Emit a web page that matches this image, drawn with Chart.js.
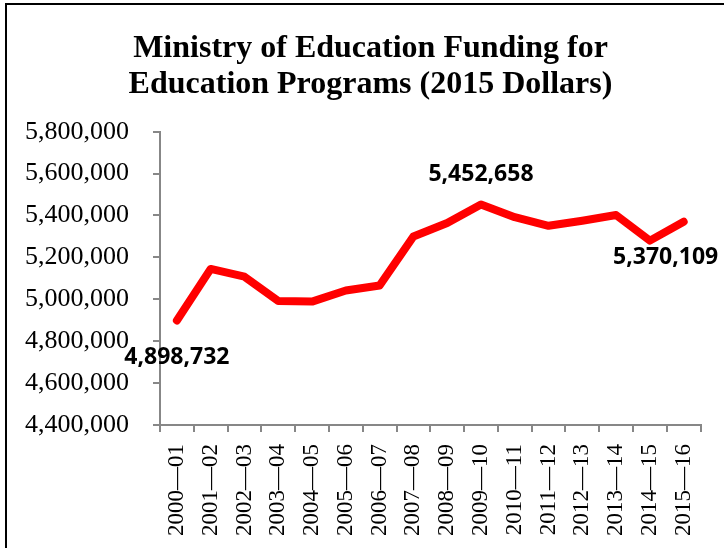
<!DOCTYPE html>
<html>
<head>
<meta charset="utf-8">
<script src="https://cdn.jsdelivr.net/npm/chart.js@4.4.1/dist/chart.umd.min.js"></script>
<style>
  html, body { margin: 0; padding: 0; background: #fff; }
  #wrap { position: relative; width: 724px; height: 548px; overflow: hidden; }
  .frameL { position: absolute; left: 5px; top: 3px; width: 2px; height: 545px; background: #000; }
  .frameT { position: absolute; left: 5px; top: 3px; width: 719px; height: 2px; background: #000; }
</style>
</head>
<body>
<div id="wrap">
  <canvas id="fundingChart"></canvas>
  <div class="frameL"></div>
  <div class="frameT"></div>
</div>
<script>
// school years on the x axis
const years = ['2000—01', '2001—02', '2002—03', '2003—04', '2004—05', '2005—06', '2006—07', '2007—08',
  '2008—09', '2009—10', '2010—11', '2011—12', '2012—13', '2013—14', '2014—15', '2015—16']
// funding in 2015 dollars (labelled ones exact)
const funding = [4898732, 5145000, 5108000, 4992000, 4989000, 5042000, 5066000, 5300000,
  5364000, 5452658, 5392000, 5351000, 5375000, 5402000, 5280000, 5370109]
// y axis ticks
const yMin = 4400000
const yMax = 5800000
const yStep = 200000
// which points get a value label
const labelled = [0, 9, 15]

// draws the bold value labels next to the chosen points
const valueLabels = {
    id: 'valueLabels',
    afterDatasetsDraw(chart, args, opts) {
        const ctx = chart.ctx
        const pts = chart.getDatasetMeta(0).data
        ctx.save()
        ctx.font = 'bold 23px "Open Sans"'
        ctx.fillStyle = '#000'
        ctx.textAlign = 'center'
        ctx.textBaseline = 'middle'
        labelled.forEach(function (i, k) {
            const off = opts.offsets[k]
            ctx.fillText(funding[i].toLocaleString('en-US'), pts[i].x + off[0], pts[i].y + off[1])
        })
        ctx.restore()
    }
}

// nudge the title box so its centre sits a bit right, like the original
const titleShift = {
    id: 'titleShift',
    afterLayout(chart) {
        if (chart.titleBlock) chart.titleBlock.left += 40
    }
}

new Chart(document.getElementById('fundingChart'), {
    type: 'line',
    data: {
        labels: years,
        datasets: [{
            data: funding,
            borderColor: '#ff0000',
            backgroundColor: '#ff0000',
            borderWidth: 8,
            borderCapStyle: 'round',
            borderJoinStyle: 'round',
            pointRadius: 0,
            tension: 0
        }]
    },
    options: {
        responsive: true,
        maintainAspectRatio: false,
        animation: false,
        events: [],
        layout: { padding: { left: 0, right: 23, top: 0, bottom: 0 } },
        plugins: {
            legend: { display: false },
            tooltip: { enabled: false },
            title: {
                display: true,
                text: ['Ministry of Education Funding for', 'Education Programs (2015 Dollars)'],
                color: '#000',
                font: { family: '"Liberation Serif"', size: 32, weight: 'bold', lineHeight: 1.12 },
                padding: { top: 31, bottom: 29 }
            },
            valueLabels: { offsets: [[0, 37], [0, -30], [-18, 36]] }
        },
        scales: {
            x: {
                offset: true,
                afterFit(scale) { scale.height = 123 },
                grid: {
                    display: true,
                    offset: true,
                    drawOnChartArea: false,
                    drawTicks: true,
                    tickLength: 7,
                    color: '#878787',
                    lineWidth: 2
                },
                border: { display: true, color: '#878787', width: 2 },
                ticks: {
                    minRotation: 90,
                    maxRotation: 90,
                    autoSkip: false,
                    padding: 12,
                    color: '#000',
                    font: { family: '"Liberation Serif"', size: 23 }
                }
            },
            y: {
                min: yMin,
                max: yMax,
                afterFit(scale) { scale.width = 160 },
                grid: {
                    display: true,
                    drawOnChartArea: false,
                    drawTicks: true,
                    tickLength: 7,
                    color: '#878787',
                    lineWidth: 2
                },
                border: { display: true, color: '#878787', width: 2 },
                ticks: {
                    stepSize: yStep,
                    padding: 24,
                    color: '#000',
                    font: { family: '"Liberation Serif"', size: 26 },
                    callback: function (value) {
                        return value.toLocaleString('en-US')
                    }
                }
            }
        }
    },
    plugins: [valueLabels, titleShift]
})
</script>
</body>
</html>
